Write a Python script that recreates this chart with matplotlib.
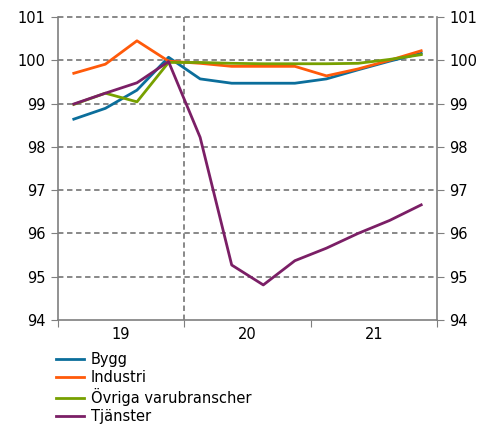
import matplotlib
matplotlib.use("Agg")
import matplotlib.pyplot as plt
import numpy as np

plt.rcParams['font.family'] = ['DejaVu Sans']

# quarterly values, 2019Q1 - 2021Q4 (index, 2019Q4 = 100)
quarters = np.arange(12) + 0.5
bygg = [98.64, 98.89, 99.31, 100.07, 99.57, 99.47, 99.47, 99.47, 99.57, 99.78, 99.98, 100.16]
industri = [99.70, 99.91, 100.45, 99.98, 99.93, 99.86, 99.86, 99.86, 99.64, 99.80, 100.00, 100.22]
ovriga = [98.98, 99.24, 99.04, 99.95, 99.95, 99.93, 99.92, 99.92, 99.92, 99.93, 100.02, 100.13]
tjanster = [98.99, 99.24, 99.48, 99.97, 98.22, 95.27, 94.81, 95.37, 95.66, 96.00, 96.30, 96.66]

series = [("Bygg", bygg, "#0b6e9b"),
          ("Industri", industri, "#ff5a0a"),
          ("Övriga varubranscher", ovriga, "#77a000"),
          ("Tjänster", tjanster, "#7b1f66")]

year_labels = ["19", "20", "21"]

fig = plt.figure(figsize=(4.88, 4.25), dpi=100)
ax = fig.add_axes([58/488, 1 - 320/425, (437-58)/488, (320-17)/425])

grey = "#7f7f7f"
for v in range(95, 102):
    ax.axhline(v, color=grey, lw=1.3, ls=(0, (3, 2)), zorder=1, clip_on=False)
ax.axvline(4, color=grey, lw=1.3, ls=(0, (3, 2)), zorder=1)

for name, vals, col in series:
    ax.plot(quarters, vals, color=col, lw=2, label=name, zorder=3)

ax.set_xlim(0, 12)
ax.set_ylim(94, 101)
ax.set_yticks(range(94, 102))
ax.set_xticks([0, 4, 8, 12])
ax.set_xticklabels([])
ax.set_xticks([2, 6, 10], minor=True)
ax.set_xticklabels(year_labels, minor=True)
ax.tick_params(axis='x', which='minor', length=0, pad=5, labelsize=10.5)
ax.tick_params(axis='x', which='major', length=5, color=grey, direction='out')
ax.tick_params(axis='y', length=5, color=grey, direction='out', right=True,
               labelright=True, labelsize=10.5, pad=4)

ax.spines['top'].set_visible(False)
for s in ['left', 'right', 'bottom']:
    ax.spines[s].set_color(grey)
    ax.spines[s].set_linewidth(1.2)

fig.legend(loc='upper left', bbox_to_anchor=(56/488, 1 - 352/425), frameon=False,
           fontsize=10.5, handlelength=1.9, handletextpad=0.5, labelspacing=0.2,
           borderaxespad=0, borderpad=0)

fig.savefig("out.png", dpi=100)
